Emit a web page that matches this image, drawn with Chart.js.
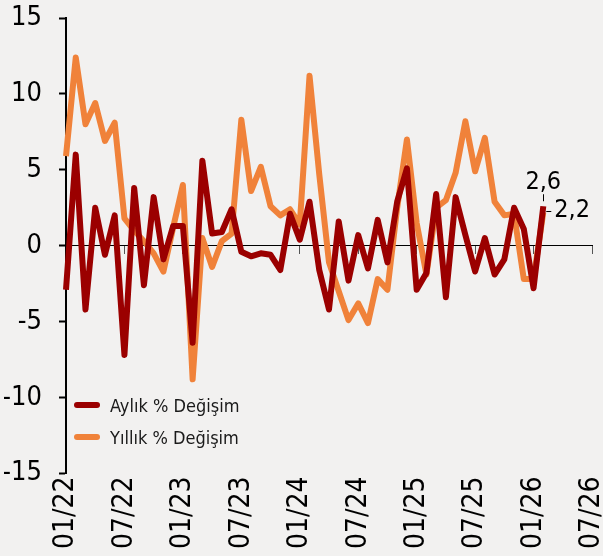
<!DOCTYPE html>
<html lang="tr">
<head>
<meta charset="utf-8">
<title>Aylık ve Yıllık % Değişim</title>
<script src="https://cdn.jsdelivr.net/npm/chart.js@4/dist/chart.umd.min.js"></script>
<style>
    html, body { margin: 0; padding: 0; background: #f2f1f0; }
    #wrap { position: relative; width: 603px; height: 556px; }
    #legend { position: absolute; left: 74px; top: 389px; font-family: "DejaVu Sans Condensed", "DejaVu Sans", sans-serif; font-size: 18px; color: #1a1a1a; }
    .row { display: flex; align-items: center; height: 32px; }
    .swatch { width: 26px; height: 6px; border-radius: 3px; margin-right: 10px; }
</style>
</head>
<body>
<div id="wrap">
    <canvas id="chart" width="603" height="556"></canvas>
    <div id="legend"></div>
</div>
<script>
const months = [
    "01/22", "02/22", "03/22", "04/22", "05/22", "06/22", "07/22", "08/22", "09/22", "10/22", "11/22", "12/22",
    "01/23", "02/23", "03/23", "04/23", "05/23", "06/23", "07/23", "08/23", "09/23", "10/23", "11/23", "12/23",
    "01/24", "02/24", "03/24", "04/24", "05/24", "06/24", "07/24", "08/24", "09/24", "10/24", "11/24", "12/24",
    "01/25", "02/25", "03/25", "04/25", "05/25", "06/25", "07/25", "08/25", "09/25", "10/25", "11/25", "12/25",
    "01/26", "02/26", "03/26", "04/26", "05/26", "06/26", "07/26"
];

// Aylık % Değişim (01/22 - 02/26)
const aylik = [
    -2.9, 6.0, -4.2, 2.5, -0.6, 2.0, -7.2, 3.8, -2.6, 3.2, -0.9, 1.3,
    1.3, -6.4, 5.6, 0.8, 0.9, 2.4, -0.4, -0.7, -0.5, -0.6, -1.6, 2.1,
    0.4, 2.9, -1.6, -4.2, 1.6, -2.3, 0.7, -1.5, 1.7, -1.1, 2.9, 5.1,
    -2.9, -1.8, 3.4, -3.4, 3.2, 0.7, -1.7, 0.5, -1.9, -0.9, 2.5, 1.1,
    -2.8, 2.6
];

// Yıllık % Değişim (01/22 - 02/26)
const yillik = [
    5.9, 12.4, 8.0, 9.4, 6.9, 8.1, 1.8, 1.0, 0.3, -0.5, -1.7, 1.2,
    4.0, -8.8, 0.5, -1.4, 0.3, 0.8, 8.3, 3.6, 5.2, 2.6, 2.0, 2.4,
    1.4, 11.2, 4.7, -1.1, -3.0, -4.9, -3.8, -5.1, -2.2, -2.9, 2.5, 7.0,
    1.5, -1.9, 2.5, 3.0, 4.8, 8.2, 4.9, 7.1, 2.9, 2.0, 2.1, -2.2,
    -2.2, 2.2
];

const seriesNames = ["Aylık % Değişim", "Yıllık % Değişim"];
const seriesColors = ["#9b0000", "#f0823a"];
const endLabels = ["2,6", "2,2"];

const fontFamily = '"DejaVu Sans Condensed", "DejaVu Sans", sans-serif';

// labels for the last values
const endLabelPlugin = {
    id: "endLabels",
    afterDatasetsDraw(chart) {
        const ctx = chart.ctx;
        const n = aylik.length - 1;
        const pA = chart.getDatasetMeta(0).data[n];
        const pY = chart.getDatasetMeta(1).data[n];
        ctx.save();
        ctx.strokeStyle = "#000";
        ctx.fillStyle = "#000";
        ctx.lineWidth = 1;
        ctx.font = "25px " + fontFamily;

        ctx.beginPath();
        ctx.moveTo(Math.round(pA.x) + 0.5, pA.y - 5);
        ctx.lineTo(Math.round(pA.x) + 0.5, pA.y - 12);
        ctx.stroke();
        ctx.textAlign = "center";
        ctx.textBaseline = "alphabetic";
        ctx.fillText(endLabels[0], pA.x, pA.y - 17);

        ctx.beginPath();
        ctx.moveTo(pY.x + 3, Math.round(pY.y) - 0.5);
        ctx.lineTo(pY.x + 8, Math.round(pY.y) - 0.5);
        ctx.stroke();
        ctx.textAlign = "left";
        ctx.textBaseline = "middle";
        ctx.fillText(endLabels[1], pY.x + 11, pY.y - 2);
        ctx.restore();
    }
};

function noPadding(scale) {
    scale.paddingLeft = 0;
    scale.paddingRight = 0;
}

const ctx = document.getElementById("chart").getContext("2d");
const chart = new Chart(ctx, {
    type: "line",
    data: {
        labels: months,
        datasets: [
            {
                label: seriesNames[0],
                data: aylik,
                borderColor: seriesColors[0],
                backgroundColor: seriesColors[0],
                borderWidth: 6,
                borderJoinStyle: "round",
                pointRadius: 0,
                tension: 0,
                xAxisID: "x",
            },
            {
                label: seriesNames[1],
                data: yillik,
                borderColor: seriesColors[1],
                backgroundColor: seriesColors[1],
                borderWidth: 6,
                borderJoinStyle: "round",
                pointRadius: 0,
                tension: 0,
                xAxisID: "x",
            },
        ],
    },
    options: {
        responsive: false,
        animation: false,
        layout: { padding: { left: 4, top: 0, right: 11, bottom: 4 } },
        plugins: {
            legend: { display: false },
            tooltip: { enabled: false },
        },
        scales: {
            // axis line on zero with small tick marks every 6 months
            x: {
                type: "category",
                position: { y: 0 },
                offset: false,
                border: { display: true, color: "#000", width: 1 },
                grid: {
                    display: true,
                    drawOnChartArea: false,
                    drawTicks: true,
                    tickLength: 8,
                    tickWidth: 1,
                    tickColor: (c) => (c.index % 6 === 0 ? "#555" : "rgba(0,0,0,0)"),
                },
                ticks: { display: false, autoSkip: false },
                afterFit: (scale) => {
                    scale.height = 0;
                    noPadding(scale);
                },
            },
            // month labels at the bottom
            x2: {
                type: "category",
                position: "bottom",
                offset: false,
                border: { display: false },
                grid: { display: false, drawTicks: false, tickLength: 0 },
                ticks: {
                    autoSkip: false,
                    minRotation: 90,
                    maxRotation: 90,
                    padding: 3,
                    color: "#000",
                    font: { family: fontFamily, size: 28 },
                    callback: (v, i) => (i % 6 === 0 ? months[i] : ""),
                },
                afterFit: noPadding,
            },
            y: {
                min: -15,
                max: 15,
                border: { display: true, color: "#000", width: 2 },
                grid: { drawOnChartArea: false, tickLength: 7, tickColor: "#000", tickWidth: 2 },
                ticks: {
                    stepSize: 5,
                    padding: 17,
                    color: "#000",
                    font: { family: fontFamily, size: 27 },
                },
                afterFit: (scale) => {
                    scale.width = 62;
                    scale.paddingTop = 18;
                    scale.paddingBottom = 16;
                },
            },
        },
    },
    plugins: [endLabelPlugin],
});

// legend in the lower left of the plot
const legend = document.getElementById("legend");
seriesNames.forEach((name, i) => {
    const row = document.createElement("div");
    row.className = "row";
    const sw = document.createElement("span");
    sw.className = "swatch";
    sw.style.background = seriesColors[i];
    const txt = document.createElement("span");
    txt.textContent = name;
    row.appendChild(sw);
    row.appendChild(txt);
    legend.appendChild(row);
});
</script>
</body>
</html>
